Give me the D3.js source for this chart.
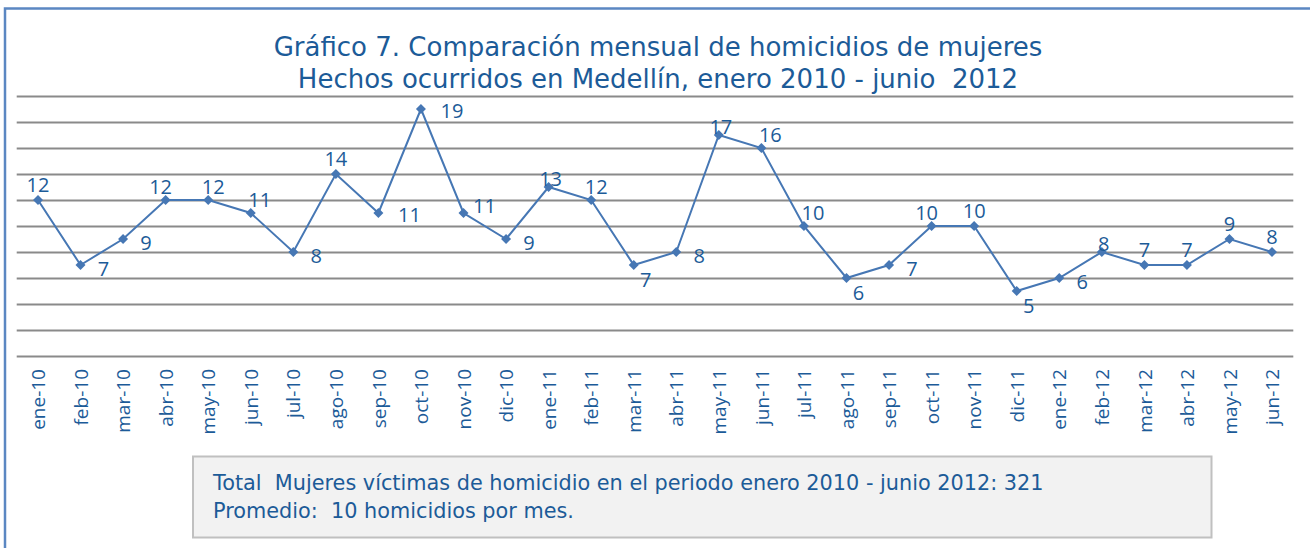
<!DOCTYPE html>
<html><head><meta charset="utf-8">
<script src="https://cdn.jsdelivr.net/npm/d3@7"></script>
<style>html,body{margin:0;padding:0;background:#fff;overflow:hidden} text{white-space:pre}</style>
</head><body><svg id="c" width="1310" height="548"></svg>
<script>
const categories = ["ene-10","feb-10","mar-10","abr-10","may-10","jun-10","jul-10","ago-10","sep-10","oct-10","nov-10","dic-10",
  "ene-11","feb-11","mar-11","abr-11","may-11","jun-11","jul-11","ago-11","sep-11","oct-11","nov-11","dic-11",
  "ene-12","feb-12","mar-12","abr-12","may-12","jun-12"];
const homicidios = [12,7,9,12,12,11,8,14,11,19,11,9, 13,12,7,8,17,16,10,6,7,10,10,5, 6,8,7,7,9,8];
const labelPlacement = ["T","R","R","Tl","Tr","TR","R","T","RR","RR","RU","R", "Tn","Tr","B","R","Tn","TR","TR","B","R","Tl","T","B", "R","Tn","T","T","T","T"];
const yTicks = [0,2,4,6,8,10,12,14,16,18,20];
const titleLines = ["Gráfico 7. Comparación mensual de homicidios de mujeres","Hechos ocurridos en Medellín, enero 2010 - junio  2012"];
const noteLines = ["Total  Mujeres víctimas de homicidio en el periodo enero 2010 - junio 2012: 321","Promedio:  10 homicidios por mes."];

const svg = d3.select("#c");
const textColor = "#1c5b98", lineColor = "#4677b4", gridColor = "#8a8a8a";
const titleFont = "'DejaVu Sans', sans-serif";
const labelFont = "'Open Sans', sans-serif";

// frame
svg.append("rect").attr("x",5).attr("y",8.5).attr("width",1400).attr("height",600)
  .attr("fill","#fff").attr("stroke","#5b87c2").attr("stroke-width",2.5);

const x = d3.scalePoint().domain(categories).range([16.7,1293.3]).padding(0.5);
const y = d3.scaleLinear().domain([0,20]).range([356,96]);

// gridlines
const gy = svg.append("g").attr("transform","translate(16.7,0)")
  .call(d3.axisLeft(y).tickValues(yTicks).tickSize(-1276.6).tickFormat(""));
gy.select(".domain").remove();
gy.selectAll(".tick line").attr("stroke",gridColor).attr("stroke-width",2);

// category axis
const gx = svg.append("g").attr("transform","translate(0,356)")
  .call(d3.axisBottom(x).tickSize(0).tickPadding(0));
gx.select(".domain").remove();
gx.selectAll(".tick text")
  .attr("transform","rotate(-90)")
  .attr("x",-13).attr("y",0).attr("dy","0.35em")
  .attr("text-anchor","end")
  .attr("fill",textColor).style("font-family",labelFont).style("font-size","19px");

// line
const line = d3.line().x((d,i)=>x(categories[i])).y(d=>y(d));
svg.append("path").datum(homicidios).attr("d",line)
  .attr("fill","none").attr("stroke",lineColor).attr("stroke-width",2);

svg.append("g").selectAll("path").data(homicidios).join("path")
  .attr("transform",(d,i)=>`translate(${x(categories[i])},${y(d)}) rotate(45)`)
  .attr("d",d3.symbol(d3.symbolSquare,50)())
  .attr("fill",lineColor);

// data labels
const off = {T:[0,-15],Tl:[-5,-13],Tr:[5,-13],TR:[9,-13],Tn:[2,-8],R:[23,4],RR:[31,2],RU:[21,-7],B:[12,15]};
svg.append("g").selectAll("text").data(homicidios).join("text")
  .attr("x",(d,i)=>x(categories[i])+off[labelPlacement[i]][0])
  .attr("y",(d,i)=>y(d)+off[labelPlacement[i]][1])
  .attr("dy","0.35em").attr("text-anchor","middle")
  .attr("fill",textColor).style("font-family",labelFont).style("font-size","20px")
  .text(d=>d);

// title
svg.append("g").selectAll("text").data(titleLines).join("text")
  .attr("x",658).attr("y",(d,i)=>56+i*32).attr("text-anchor","middle")
  .attr("fill",textColor).style("font-family",titleFont).style("font-size","26px")
  .text(d=>d);

// note box
svg.append("rect").attr("x",193).attr("y",456.5).attr("width",1018.5).attr("height",81)
  .attr("fill","#f2f2f2").attr("stroke","#c0c0c0").attr("stroke-width",2);
svg.append("g").selectAll("text").data(noteLines).join("text")
  .attr("x",213).attr("y",(d,i)=>490+i*28)
  .attr("fill",textColor).style("font-family",titleFont).style("font-size","20.8px")
  .text(d=>d);
</script></body></html>
